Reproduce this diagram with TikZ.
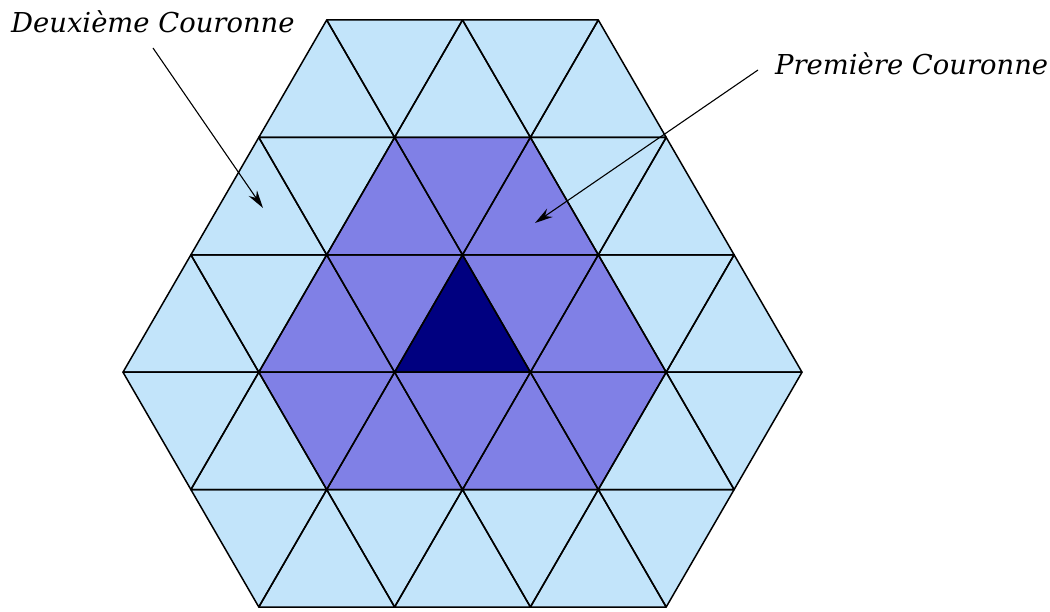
\documentclass[tikz,border=0pt]{standalone}
\usepackage{fontspec}
\setmainfont{DejaVu Serif}
\usetikzlibrary{arrows.meta}
\definecolor{lightb}{RGB}{194,228,250}
\definecolor{ringc}{RGB}{128,128,230}
\definecolor{corec}{RGB}{0,0,128}
\tikzset{
  gridline/.style={draw=black, line width=1.5pt, line join=round},
  lab/.style={font=\itshape\fontsize{27.4}{30}\selectfont, inner sep=0pt},
  arr/.style={draw=black, line width=1.1pt, -{Stealth[length=18pt,width=10pt]}}
}
\begin{document}
\begin{tikzpicture}[x=1pt,y=-1pt]
\useasboundingbox (0,0) rectangle (1050,612);
\foreach \r in {0,...,5}{
  \foreach \h in {0,...,10}{
    \coordinate (p-\h-\r) at ({123+67.9*\h},{20+117.4*\r});
  }
}
% up triangles: apex h, row r, colour
\def\uplist{3/0/lightb,5/0/lightb,7/0/lightb,
  2/1/lightb,4/1/ringc,6/1/ringc,8/1/lightb,
  1/2/lightb,3/2/ringc,5/2/corec,7/2/ringc,9/2/lightb,
  2/3/lightb,4/3/ringc,6/3/ringc,8/3/lightb,
  3/4/lightb,5/4/lightb,7/4/lightb}
% down triangles: bottom h, top row r, colour
\def\downlist{4/0/lightb,6/0/lightb,
  3/1/lightb,5/1/ringc,7/1/lightb,
  2/2/lightb,4/2/ringc,6/2/ringc,8/2/lightb,
  1/3/lightb,3/3/ringc,5/3/ringc,7/3/ringc,9/3/lightb,
  2/4/lightb,4/4/lightb,6/4/lightb,8/4/lightb}
\foreach \h/\r/\c in \uplist {
  \pgfmathtruncatemacro\hl{\h-1}\pgfmathtruncatemacro\hr{\h+1}\pgfmathtruncatemacro\rb{\r+1}
  \fill[\c] (p-\h-\r) -- (p-\hl-\rb) -- (p-\hr-\rb) -- cycle;
}
\foreach \h/\r/\c in \downlist {
  \pgfmathtruncatemacro\hl{\h-1}\pgfmathtruncatemacro\hr{\h+1}\pgfmathtruncatemacro\rb{\r+1}
  \fill[\c] (p-\hl-\r) -- (p-\hr-\r) -- (p-\h-\rb) -- cycle;
}
\foreach \h/\r/\c in \uplist {
  \pgfmathtruncatemacro\hl{\h-1}\pgfmathtruncatemacro\hr{\h+1}\pgfmathtruncatemacro\rb{\r+1}
  \draw[gridline] (p-\h-\r) -- (p-\hl-\rb) -- (p-\hr-\rb) -- cycle;
}
\foreach \h/\r/\c in \downlist {
  \pgfmathtruncatemacro\hl{\h-1}\pgfmathtruncatemacro\hr{\h+1}\pgfmathtruncatemacro\rb{\r+1}
  \draw[gridline] (p-\hl-\r) -- (p-\hr-\r) -- (p-\h-\rb) -- cycle;
}
\node[lab, anchor=base west] (t2) at (11,33) {Deuxième Couronne};
\node[lab, anchor=base west] (t1) at (775,75) {Première Couronne};
\coordinate (a2s) at (153,48);
\coordinate (a2e) at (263,208);
\coordinate (a1s) at (758,70);
\coordinate (a1e) at (535,223);
\draw[arr] (a2s) -- (a2e);
\draw[arr] (a1s) -- (a1e);
\end{tikzpicture}
\end{document}
